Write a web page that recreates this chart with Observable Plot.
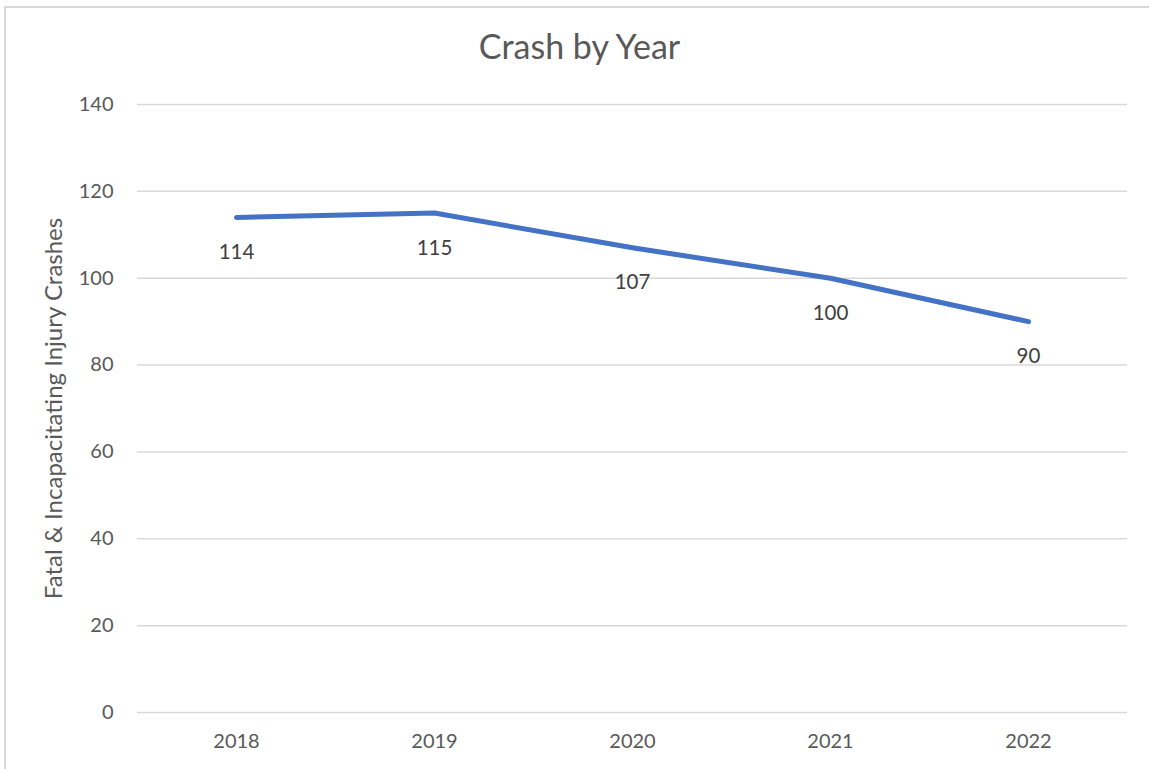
<!DOCTYPE html>
<html>
<head>
<meta charset="utf-8">
<script src="https://cdn.jsdelivr.net/npm/d3@7"></script>
<script src="https://cdn.jsdelivr.net/npm/@observablehq/plot@0.6"></script>
<style>
  html, body { margin: 0; padding: 0; background: #fff; }
  #wrap { position: relative; width: 1149px; height: 769px; overflow: hidden; }
  #border { position: absolute; left: 4px; top: 6px; right: -10px; bottom: -10px;
            border-left: 2px solid #d9d9d9; border-top: 2px solid #d9d9d9; }
  #chart { position: absolute; left: 0; top: 0; }
</style>
</head>
<body>
<div id="wrap">
  <div id="border"></div>
  <div id="chart"></div>
</div>
<script>
const years = ["2018", "2019", "2020", "2021", "2022"];
const crashes = [114, 115, 107, 100, 90];
const yTicks = [0, 20, 40, 60, 80, 100, 120, 140];
const title = "Crash by Year";
const yLabel = "Fatal & Incapacitating Injury Crashes";

const data = years.map((year, i) => ({year, value: crashes[i]}));
const font = "Lato, 'Open Sans', sans-serif";

const chart = Plot.plot({
  width: 1149,
  height: 769,
  marginLeft: 137,
  marginRight: 22,
  marginTop: 104,
  marginBottom: 57,
  style: {fontFamily: font, background: "transparent", color: "#595959"},
  x: {type: "band", domain: years, padding: 0, label: null},
  y: {domain: [0, 140], ticks: yTicks, label: null},
  marks: [
    Plot.gridY(yTicks, {stroke: "#d9d9d9", strokeOpacity: 1, strokeWidth: 1.5}),
    Plot.axisY({ticks: yTicks, tickSize: 0, tickPadding: 24, fontSize: 20, fill: "#595959",
      label: yLabel, labelAnchor: "center", labelArrow: "none", labelOffset: 93}),
    Plot.axisX({tickSize: 0, tickPadding: 21, fontSize: 20, fill: "#595959", label: null}),
    Plot.line(data, {x: "year", y: "value", stroke: "#4472C4", strokeWidth: 5,
      strokeLinecap: "round", strokeLinejoin: "round"}),
    Plot.text(data, {x: "year", y: "value", text: d => String(d.value), dy: 35,
      fill: "#404040", fontSize: 20.5}),
    Plot.text([title], {frameAnchor: "top", dx: -53, dy: -70, fontSize: 34, fill: "#595959"})
  ]
});
// axis label font size
chart.querySelectorAll("g[aria-label='y-axis label'] text").forEach(t => t.setAttribute("font-size", 24));
document.getElementById("chart").appendChild(chart);
</script>
</body>
</html>
